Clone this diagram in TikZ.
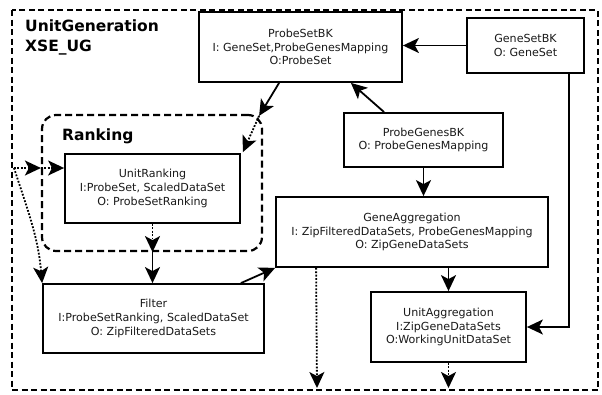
\documentclass[tikz,border=0pt]{standalone}
\usepackage{fontspec}
\setmainfont{DejaVu Sans}
\usetikzlibrary{arrows.meta,calc}
\begin{document}
\begin{tikzpicture}[x=1pt,y=-1pt,
  box/.style={draw, line width=1.8pt, rectangle, align=center, inner sep=0pt,
    font=\fontsize{11.1}{13.8}\selectfont, text=black!90},
  arr/.style={line width=1.8pt, -{Stealth[length=16pt,width=15pt,inset=4pt]}},
  dotarr/.style={arr, dash pattern=on 1.8pt off 1.6pt},
  ttl/.style={anchor=base west, inner sep=0pt, font=\fontsize{15.5}{18}\selectfont\bfseries},
]
\useasboundingbox (0,0) rectangle (602,394);
% outer frame
\draw[line width=2.2pt, dash pattern=on 6pt off 3.5pt] (12,10) rectangle (598,390);
\node[ttl] (t1) at (25,31) {UnitGeneration};
\node[ttl] (t2) at (25,51) {XSE\_UG};
% ranking group
\node[draw, line width=2.2pt, dash pattern=on 7pt off 4pt, rounded corners=14pt,
  minimum width=220pt, minimum height=136pt, inner sep=0pt] (rk) at (152,183) {};
\node[ttl] (rkt) at (62,140) {Ranking};
% boxes
\node[box, minimum width=203pt, minimum height=70pt] (psbk) at (300.5,47)
  {ProbeSetBK\\I: GeneSet,ProbeGenesMapping\\O:ProbeSet};
\node[box, minimum width=117pt, minimum height=55pt] (gs) at (525.5,45.5)
  {GeneSetBK\\O: GeneSet};
\node[box, minimum width=159pt, minimum height=54pt] (pg) at (423.5,140)
  {ProbeGenesBK\\O: ProbeGenesMapping};
\node[box, minimum width=272pt, minimum height=70pt] (ga) at (412,232)
  {GeneAggregation\\I: ZipFilteredDataSets, ProbeGenesMapping\\O: ZipGeneDataSets};
\node[box, minimum width=155pt, minimum height=70pt] (ua) at (448.5,327)
  {UnitAggregation\\I:ZipGeneDataSets\\O:WorkingUnitDataSet};
\node[box, minimum width=175pt, minimum height=69pt] (ur) at (152.5,188.5)
  {UnitRanking\\I:ProbeSet, ScaledDataSet\\O: ProbeSetRanking};
\node[box, minimum width=221pt, minimum height=69pt] (fi) at (153.5,318.5)
  {Filter\\I:ProbeSetRanking, ScaledDataSet\\O: ZipFilteredDataSets};
% connector points
\coordinate (in) at (14,168);
\coordinate (rkc) at ($(rk.north east)+(-4,2)$);
\coordinate (gaout) at ($(ga.south west)+(41,0)$);
\coordinate (gaend) at (317,388);
% connectors
\draw[arr] (gs.west) -- (gs.west -| psbk.east);
\draw[arr] ($(pg.north west)+(41,0)$) -- ($(psbk.south east)+(-52,0)$);
\draw[arr] (pg.south) -- (pg.south |- ga.north);
\draw[arr] (ua.north |- ga.south) -- (ua.north);
\draw[arr] ($(gs.south east)+(-16,0)$) |- (ua.east);
\draw[dotarr] (gaout) -- (gaend);
\draw[dotarr] (ua.south) -- (ua.south |- gaend);
\draw[arr] ($(psbk.south west)+(81,0)$) -- (rkc);
\draw[dotarr] (rkc) -- ($(ur.north east)+(2,-1)$);
\draw[dotarr] (in) -- (in -| rk.west);
\draw[dotarr] (in -| rk.west) -- (in -| ur.west);
\draw[dotarr] (in) to[out=-72,in=95] (fi.north west);
\draw[dotarr] (ur.south) -- (ur.south |- rk.south);
\draw[arr] (ur.south |- rk.south) -- (ur.south |- fi.north);
\draw[arr] ($(fi.north east)+(-24,0)$) -- (ga.south west);
\end{tikzpicture}
\end{document}
